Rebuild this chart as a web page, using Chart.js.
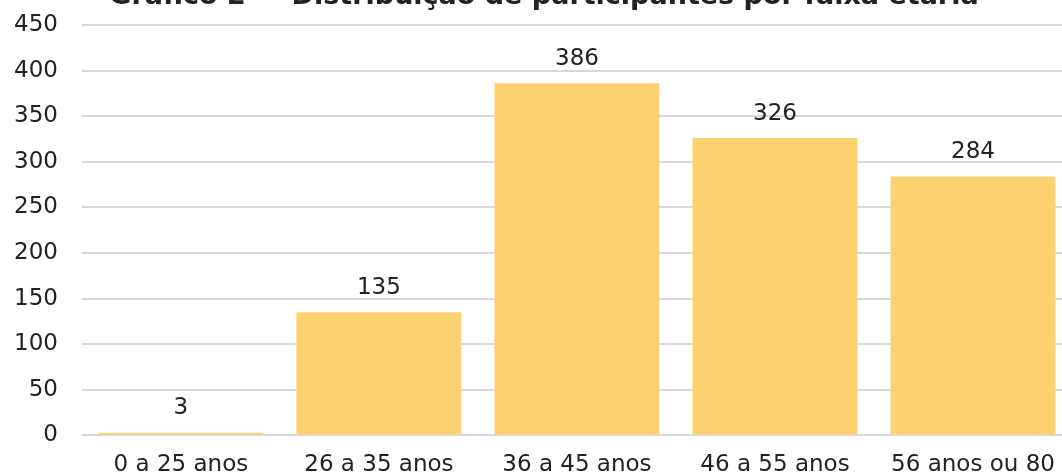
<!DOCTYPE html>
<html>
<head>
<meta charset="utf-8">
<script src="https://cdn.jsdelivr.net/npm/chart.js@4"></script>
<style>
  html, body { margin: 0; padding: 0; background: #fff; overflow: hidden; }
  #wrap { position: absolute; left: -20px; top: -34px; width: 1104px; height: 521px; }
</style>
</head>
<body>
<div id="wrap"><canvas id="grafico"></canvas></div>
<script>
const ctx = document.getElementById('grafico');

const titulo = 'Gráfico 2 — Distribuição de participantes por faixa etária';
const faixas = ['0 a 25 anos', '26 a 35 anos', '36 a 45 anos', '46 a 55 anos', '56 anos ou 80'];
const participantes = [3, 135, 386, 326, 284];
const ticksY = [0, 50, 100, 150, 200, 250, 300, 350, 400, 450];

const fonte = 'DejaVu Sans';

// titulo (cortado em cima) e rotulos em cima das barras
const rotulos = {
    id: 'rotulos',
    afterDatasetsDraw(chart) {
        const c = chart.ctx;
        const meta = chart.getDatasetMeta(0);
        c.save();
        c.fillStyle = '#222';
        c.textAlign = 'center';
        c.font = 'bold 27px "' + fonte + '"';
        c.textBaseline = 'alphabetic';
        c.fillText(titulo, 564, 38);
        c.font = '23px "' + fonte + '"';
        c.textBaseline = 'bottom';
        meta.data.forEach((bar, i) => {
            c.fillText(String(participantes[i]), bar.x, bar.y - 13);
        });
        c.restore();
    }
};

new Chart(ctx, {
    type: 'bar',
    data: {
        labels: faixas,
        datasets: [{
            label: 'Participantes',
            data: participantes,
            backgroundColor: '#fcd170',
            barPercentage: 0.833,
            categoryPercentage: 1
        }]
    },
    options: {
        responsive: true,
        maintainAspectRatio: false,
        animation: false,
        layout: { padding: { left: 10, right: 12, top: 59, bottom: 0 } },
        plugins: {
            legend: { display: false },
            tooltip: { enabled: false },
            title: { display: false }
        },
        scales: {
            x: {
                grid: { display: false },
                border: { display: false },
                ticks: { color: '#222', font: { family: fonte, size: 23 }, padding: 8, maxRotation: 0, autoSkip: false }
            },
            y: {
                min: 0,
                max: 450,
                afterBuildTicks(axis) { axis.ticks = ticksY.map(v => ({ value: v })); },
                grid: { color: '#d9d9d9', lineWidth: 2, drawTicks: false },
                border: { display: false },
                ticks: { color: '#222', font: { family: fonte, size: 23 }, padding: 24 }
            }
        }
    },
    plugins: [rotulos]
});
</script>
</body>
</html>
